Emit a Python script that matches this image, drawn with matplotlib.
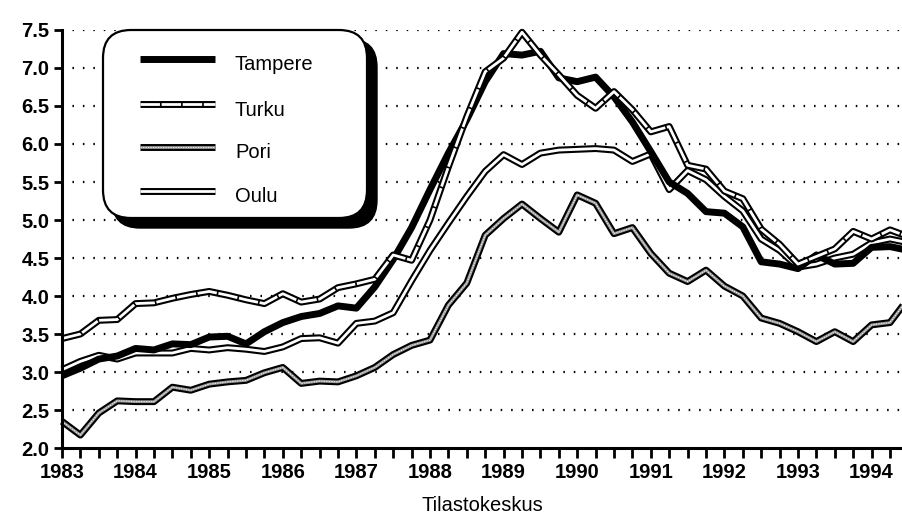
import matplotlib
matplotlib.use("Agg")
import matplotlib.pyplot as plt
import numpy as np
from matplotlib.patches import FancyBboxPatch
from matplotlib.ticker import MultipleLocator

# quarterly observations, 1983 Q1 .. 1994 Q3
QUARTERS = np.arange(1983.0, 1994.51, 0.25)

TAMPERE = [2.95, 3.05, 3.17, 3.21, 3.31, 3.29, 3.37, 3.36, 3.46, 3.47, 3.37, 3.53,
           3.65, 3.73, 3.77, 3.87, 3.84, 4.12, 4.48, 4.90, 5.40, 5.88, 6.32, 6.82,
           7.19, 7.17, 7.22, 6.87, 6.82, 6.88, 6.62, 6.29, 5.90, 5.50, 5.35, 5.11,
           5.09, 4.91, 4.45, 4.42, 4.36, 4.54, 4.42, 4.43, 4.64, 4.65, 4.60]
TURKU = [3.44, 3.50, 3.68, 3.69, 3.90, 3.91, 3.97, 4.02, 4.06, 4.01, 3.95, 3.90,
         4.03, 3.92, 3.96, 4.11, 4.16, 4.22, 4.54, 4.47, 5.00, 5.70, 6.36, 6.95,
         7.13, 7.47, 7.17, 6.91, 6.64, 6.47, 6.69, 6.45, 6.16, 6.23, 5.72, 5.67,
         5.38, 5.28, 4.88, 4.68, 4.42, 4.52, 4.62, 4.85, 4.75, 4.87, 4.78]
PORI = [2.35, 2.17, 2.46, 2.62, 2.61, 2.61, 2.80, 2.76, 2.84, 2.87, 2.89, 2.99,
        3.06, 2.85, 2.88, 2.87, 2.95, 3.06, 3.23, 3.35, 3.42, 3.88, 4.17, 4.80,
        5.02, 5.21, 5.02, 4.84, 5.33, 5.22, 4.82, 4.90, 4.56, 4.30, 4.19, 4.34,
        4.13, 4.00, 3.71, 3.64, 3.53, 3.40, 3.53, 3.40, 3.62, 3.65, 3.97]
OULU = [3.03, 3.14, 3.22, 3.17, 3.25, 3.25, 3.25, 3.31, 3.29, 3.32, 3.30, 3.27,
        3.33, 3.44, 3.45, 3.38, 3.64, 3.67, 3.78, 4.20, 4.60, 4.96, 5.31, 5.64,
        5.86, 5.73, 5.88, 5.92, 5.93, 5.94, 5.92, 5.77, 5.87, 5.40, 5.65, 5.53,
        5.31, 5.12, 4.75, 4.60, 4.38, 4.42, 4.50, 4.55, 4.70, 4.75, 4.70]

SERIES = [("Tampere", TAMPERE, "solid"), ("Turku", TURKU, "dashed"),
          ("Pori", PORI, "grey"), ("Oulu", OULU, "double")]
DRAW_ORDER = ["Pori", "Oulu", "Tampere", "Turku"]

FONT = "Liberation Sans"
W, H = 903, 518


def draw_line(ax, x, y, kind):
    common = dict(clip_on=False, solid_joinstyle="round", solid_capstyle="butt",
                  dash_joinstyle="round", dash_capstyle="butt")
    if kind == "solid":
        ax.plot(x, y, color="black", lw=5.0, **common)
        return
    ax.plot(x, y, color="black", lw=5.0, **common)
    if kind == "double":
        ax.plot(x, y, color="white", lw=2.0, **common)
    elif kind == "dashed":
        ax.plot(x, y, color="white", lw=2.0, ls=(0, (7, 0.6)), **common)
    elif kind == "grey":
        ax.plot(x, y, color="#9a9a9a", lw=2.0, **common)
        ax.plot(x, y, color="white", lw=0.6, ls=(0, (1.5, 1.5)), **common)


fig = plt.figure(figsize=(W / 100, H / 100), dpi=100)
ax = fig.add_axes([62 / W, (H - 448) / H, (W - 62) / W, (448 - 30) / H])

by_name = {name: (vals, kind) for name, vals, kind in SERIES}
for name in DRAW_ORDER:
    vals, kind = by_name[name]
    draw_line(ax, QUARTERS, vals, kind)

ax.set_xlim(1983, 1983 + (W - 62) / 73.6)
ax.set_ylim(2.0, 7.5)
for yv in np.arange(2.5, 7.51, 0.5):
    ax.axhline(yv, color="black", lw=1.6, ls=(0, (0.7, 4.0)), zorder=0)

ax.set_xticks(np.arange(1983, 1995))
ax.xaxis.set_minor_locator(MultipleLocator(0.25))
ax.set_yticks(np.arange(2.0, 7.51, 0.5))
ax.set_yticklabels([f"{v:.1f}" for v in np.arange(2.0, 7.51, 0.5)])
ax.tick_params(axis="x", which="both", direction="out", length=7, width=2,
               labelsize=14.5, pad=4)
ax.tick_params(axis="y", direction="out", length=6, width=2, labelsize=14.5, pad=3)
for lab in ax.get_xticklabels() + ax.get_yticklabels():
    lab.set_fontfamily(FONT)
    lab.set_fontweight("bold")
for s in ("top", "right"):
    ax.spines[s].set_visible(False)
for s in ("left", "bottom"):
    ax.spines[s].set_linewidth(2.2)
ax.set_xlabel("Tilastokeskus", fontsize=14.5, fontfamily=FONT, labelpad=10)

# legend drawn in pixel space on an overlay
lax = fig.add_axes([0, 0, 1, 1], zorder=5)
lax.set_xlim(0, W)
lax.set_ylim(H, 0)
lax.axis("off")
shadow = FancyBboxPatch((112, 39), 265, 189, boxstyle="round,pad=0,rounding_size=28",
                        fc="black", ec="black", lw=1)
box = FancyBboxPatch((103, 30), 264, 188, boxstyle="round,pad=0,rounding_size=28",
                     fc="white", ec="black", lw=1.6)
lax.add_patch(shadow)
lax.add_patch(box)
rows = [59, 104, 147, 191]
for (name, vals, kind), yr in zip(SERIES, rows):
    draw_line(lax, [140, 215], [yr, yr], kind)
    lax.text(235, yr + 6, name, fontsize=14.5, fontfamily=FONT, va="center", ha="left")

fig.savefig("out.png", dpi=100)
